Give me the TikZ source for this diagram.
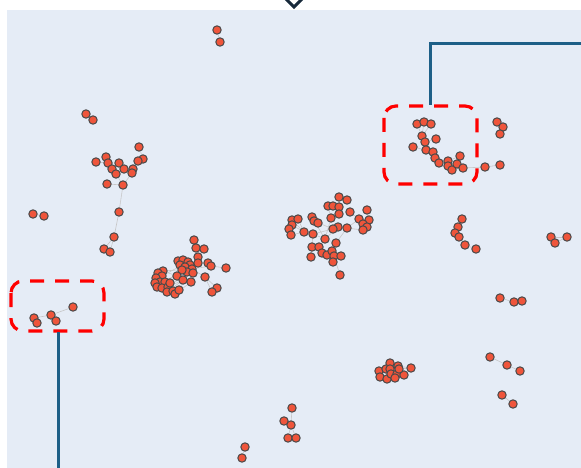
\documentclass[tikz,border=0pt]{standalone}
\usepackage{tikz}
\usetikzlibrary{positioning, arrows.meta, calc}

\definecolor{plotbg}{HTML}{E5ECF6}
\definecolor{dotred}{HTML}{EF553B}
\definecolor{dotrim}{HTML}{4A4A4A}
\definecolor{leadblue}{HTML}{1D5F87}
\definecolor{markdark}{HTML}{17293A}
\pgfdeclarelayer{bg}
\pgfsetlayers{bg,main}

\begin{document}
\begin{tikzpicture}[x=1pt, y=-1pt,
    dot/.style={circle, fill=dotred, draw=dotrim, line width=1pt, inner sep=0pt, minimum size=8.4pt},
    link/.style={draw=black!22, line width=0.6pt},
    hilite/.style={draw=red, line width=3.2pt, dash pattern=on 14pt off 11pt, rounded corners=12pt},
    leader/.style={draw=leadblue, line width=3pt}]
    \useasboundingbox (0,0) rectangle (581,468);
    \begin{pgfonlayer}{bg}
    \fill[plotbg] (7,10) rectangle (581,468);
    \end{pgfonlayer}
    % marker peeking in at the top
    \begin{scope}
    \clip (0,0) rectangle (581,468);
    \draw[markdark, line width=3pt] (294,-17) -- (306,-5) -- (294,7) -- (282,-5) -- cycle;
    \end{scope}
    % nodes
    \foreach \n/\x/\y in {a1/217/30, a2/220/42, b1/86/114, b2/93/120,
        c1/139/147, c2/143/159, c3/138/161, c4/106/157, c5/96/162, c6/108/163,
        c7/119/163, c8/112/169, c9/124/169, c10/116/174, c11/133/169, c12/132/173,
        c13/107/184, c14/123/185, c15/119/212, c16/114/237, c17/104/249, c18/110/252,
        d1/33/214, d2/44/216,
        e1/34/318, e2/37/323, e3/51/315, e4/56/321, e5/73/307,
        f1/194/240, f2/196/248, f3/204/249, f4/198/257, f5/208/263, f6/211/266,
        f7/226/268, f8/205/277, f9/217/288, f10/212/292, f11/191/282,
        f12/178/261, f13/183/260, f14/188/262, f15/190/265, f16/180/265, f17/185/267,
        f18/192/269, f19/187/272, f20/193/273, f21/182/270, f22/198/263, f24/177/276,
        f25/183/280, f26/163/271, f27/158/273, f28/162/276, f29/156/278, f30/160/282,
        f31/155/283, f32/165/282, f33/157/287, f34/162/288, f35/168/287, f36/167/292,
        f37/173/291, f38/175/294, f39/179/290, f40/170/283,
        g1/339/197, g2/347/200, g3/328/206, g4/333/206, g5/339/207, g6/350/212,
        g7/339/214, g8/367/210, g9/331/218, g10/359/219, g11/369/220, g12/363/224,
        g13/367/227, g14/363/230, g15/347/228, g16/338/227, g17/333/229, g18/292/220,
        g19/298/219, g20/292/225, g21/289/229, g22/291/235, g23/304/232, g24/312/217,
        g25/314/221, g26/318/223, g27/313/234, g28/325/239, g29/336/243, g30/312/247,
        g31/319/247, g32/322/253, g33/327/255, g34/332/251, g35/334/256, g36/341/256,
        g37/333/262, g38/311/257, g39/340/275,
        h1/417/124, h2/424/122, h3/431/124, h4/422/136, h5/425/142, h6/436/139,
        h7/413/147, h8/426/150, h9/433/152, h10/435/158, h11/439/163, h12/448/161,
        h13/448/166, h14/452/170, h15/457/164, h16/460/156, h17/463/168, h18/485/167,
        h19/500/165,
        i1/497/122, i2/503/127, i3/500/134,
        j1/462/219, j2/458/227, j3/455/233, j4/459/237, j5/465/245, j6/476/249,
        k1/551/237, k2/555/243, k3/567/237,
        l1/500/298, l2/514/302, l3/522/301,
        m1/490/357, m2/507/365, m3/520/371,
        n1/502/395, n2/513/404,
        o1/390/363, o2/379/371, o3/386/369, o4/390/369, o5/398/366, o6/411/368,
        o7/380/377, o8/387/379, o9/391/374, o10/397/374, o11/395/378, o12/404/375,
        o13/399/369,
        p1/292/408, p2/284/421, p3/291/425, p4/288/438, p5/296/438,
        q1/245/447, q2/242/458}
        \node[dot] (\n) at (\x,\y) {};
    % links, kept behind the nodes
    \begin{pgfonlayer}{bg}
    \foreach \s/\t in {a1/a2, b1/b2,
        c1/c2, c2/c3, c3/c11, c11/c12, c12/c14, c10/c14, c8/c10, c6/c8, c4/c6, c5/c6,
        c7/c9, c9/c10, c13/c14, c14/c15, c15/c16, c16/c17, c16/c18, c17/c18,
        d1/d2, e1/e3, e3/e5, e3/e4, e1/e2,
        f1/f2, f2/f4, f3/f4, f4/f22, f5/f6, f6/f7, f6/f18, f8/f9, f8/f10, f8/f18,
        f11/f20, f12/f18, f13/f18, f14/f18, f16/f18, f17/f18, f19/f18, f21/f18,
        f22/f18, f24/f18, f24/f26, f24/f30, f25/f35, f26/f18, f28/f14, f30/f19,
        f32/f21, f34/f20, f36/f25, f38/f11, f39/f19, f29/f27, f31/f33,
        g18/g23, g20/g23, g22/g23, g19/g23, g23/g27, g27/g28, g28/g29, g29/g34,
        g16/g28, g17/g27, g15/g10, g10/g12, g12/g11, g13/g14, g7/g9, g5/g7,
        g35/g39, g30/g31, g31/g32, g24/g28, g25/g17, g9/g28, g15/g29, g14/g16,
        g6/g10, g8/g13, g1/g5, g3/g9, g33/g36, g37/g34, g38/g27,
        h4/h1, h4/h2, h4/h3, h5/h6, h4/h5, h7/h8, h5/h8, h8/h9, h9/h10, h10/h11,
        h11/h13, h13/h14, h14/h17, h17/h18, h18/h19, h12/h16, h15/h13,
        i1/i2, i2/i3, j1/j2, j2/j3, j3/j4, j4/j5, j5/j6, k1/k2, k2/k3, k1/k3,
        l1/l2, l2/l3, m1/m2, m2/m3, n1/n2,
        o1/o4, o4/o9, o3/o2, o5/o6, o9/o7, o10/o12, o8/o11, o13/o6,
        p1/p3, p2/p3, p3/p4, p3/p5, q1/q2}
        \draw[link] (\s) -- (\t);
    \end{pgfonlayer}
    % highlight boxes with their leader lines
    \draw[hilite] (384,106) rectangle (477,184);
    \coordinate (topend) at (581,44);
    \draw[leader] (430,105) |- (topend);
    \draw[hilite] (11,281) rectangle (104,331);
    \coordinate (lowend) at (58,468);
    \draw[leader] (58,332) -- (lowend);
\end{tikzpicture}
\end{document}
